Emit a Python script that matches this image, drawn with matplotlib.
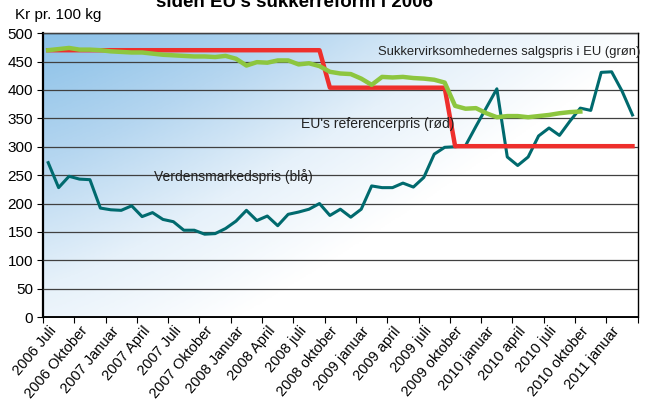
import numpy as np
import matplotlib
matplotlib.use("Agg")
import matplotlib.pyplot as plt
from matplotlib.colors import LinearSegmentedColormap

plt.rcParams['font.family'] = ['Liberation Sans', 'DejaVu Sans']

# x-axis labels (one every 3 months, monthly data from 2006 Juli)
tick_labels = ["2006 Juli", "2006 Oktober", "2007 Januar", "2007 April", "2007 Juli",
               "2007 Oktober", "2008 Januar", "2008 April", "2008 juli", "2008 oktober",
               "2009 januar", "2009 april", "2009 juli", "2009 oktober", "2010 januar",
               "2010 april", "2010 juli", "2010 oktober", "2011 januar"]

# Verdensmarkedspris (blå)
world = [272, 228, 248, 243, 242, 192, 189, 188, 196, 177, 184, 172, 168, 153, 153,
         146, 147, 156, 169, 188, 170, 178, 161, 181, 185, 190, 200, 179, 190, 176,
         190, 231, 228, 228, 236, 229, 246, 287, 299, 300, 302, 336, 369, 402, 282,
         267, 282, 319, 333, 320, 345, 368, 364, 431, 432, 398, 356]

# Sukkervirksomhedernes salgspris i EU (grøn)
eu_sales = [470, 472, 474, 471, 471, 470, 468, 467, 466, 466, 464, 462, 461, 460, 459,
            459, 458, 460, 455, 443, 449, 448, 452, 452, 445, 447, 442, 432, 429, 428,
            420, 409, 423, 422, 423, 421, 420, 418, 413, 372, 367, 368, 359, 352, 354,
            354, 352, 354, 356, 359, 361, 362]

# EU's referencepris (rød)
eu_ref = [470] * 27 + [404] * 12 + [301] * 18

fig = plt.figure(figsize=(6.55, 4.2), dpi=100)
ax = fig.add_axes([0.0656, 0.245, 0.908, 0.676])

# background gradient
nx, ny = 300, 200
xs = np.linspace(0, 1, nx)
ys = np.linspace(1, 0, ny)
X, Y = np.meshgrid(xs, ys)
T = np.clip(0.95 * X ** 1.2 + 0.75 * (1 - Y), 0, 1)
cmap = LinearSegmentedColormap.from_list("bg", ["#8bc1e8", "#b5d6f0", "#e6f1fa", "#ffffff"])
ax.imshow(T, cmap=cmap, extent=[0, 1, 0, 1], transform=ax.transAxes,
          aspect='auto', zorder=0, interpolation='bilinear')

n = len(world)
ax.plot(range(len(world)), world, color="#006a6e", lw=2.2, zorder=3)
ax.plot(range(len(eu_ref)), eu_ref, color="#ee2f2c", lw=3.2, zorder=3)
ax.plot(range(len(eu_sales)), eu_sales, color="#8dc63f", lw=3.2, zorder=4)

ax.set_xlim(-0.5, n - 0.5)
ax.set_ylim(0, 500)
ax.set_yticks(range(0, 501, 50))
ax.yaxis.grid(True, color="#404040", lw=0.9)
ax.set_axisbelow(False)
for gl in ax.get_ygridlines():
    gl.set_zorder(1)

ax.set_xticks(np.arange(-0.5, n, 3), minor=False)
ax.set_xticklabels([])
ax.set_xticks(np.arange(0, n, 3), minor=True)
ax.set_xticklabels(tick_labels, minor=True, rotation=50, ha='right', va='top',
                   rotation_mode='anchor', fontsize=10.5)
ax.tick_params(axis='x', which='minor', length=0, pad=5)
ax.tick_params(axis='x', which='major', length=4, color='black')
ax.tick_params(axis='y', length=4, labelsize=11, pad=3)

for s in ax.spines.values():
    s.set_color('black')
    s.set_linewidth(1.0)
ax.spines['left'].set_linewidth(1.6)
ax.spines['bottom'].set_linewidth(1.4)

ax.text(31.6, 466, "Sukkervirksomhedernes salgspris i EU (grøn)", fontsize=9.4,
        va='center', ha='left', color='#222222', zorder=5, clip_on=False)
ax.text(24.2, 340, "EU's referencerpris (rød)", fontsize=10,
        va='center', ha='left', color='#222222', zorder=5)
ax.text(10.1, 247, "Verdensmarkedspris (blå)", fontsize=10,
        va='center', ha='left', color='#222222', zorder=5)

fig.text(0.023, 0.965, "Kr pr. 100 kg", fontsize=11, va='center', ha='left')
fig.text(0.45, 0.984, "siden EU's sukkerreform i 2006", fontsize=13.5, fontweight='bold',
         va='baseline', ha='center')

fig.savefig("out.png", dpi=100)
